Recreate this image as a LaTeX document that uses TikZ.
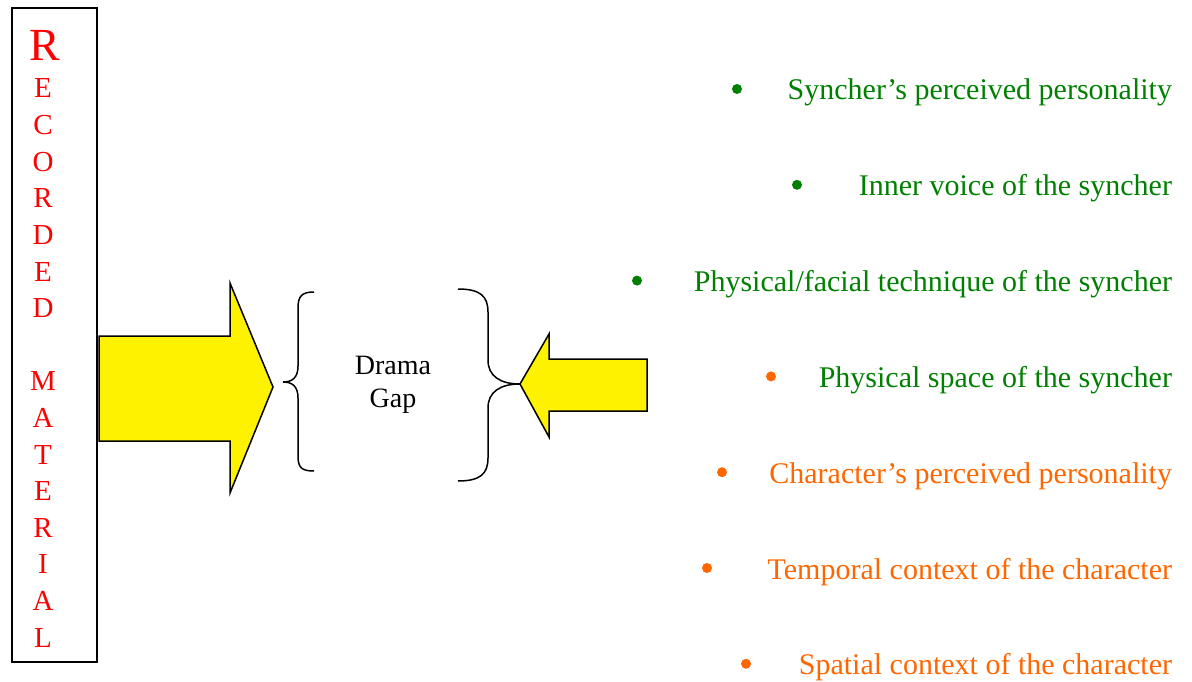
\documentclass[tikz,border=0pt]{standalone}
\usepackage{fontspec}
\setmainfont{Liberation Serif}
\usetikzlibrary{positioning}
\definecolor{listgreen}{RGB}{0,128,0}
\definecolor{listorange}{RGB}{255,102,0}

\begin{document}
\begin{tikzpicture}[
    x=1pt, y=-1pt,
    every node/.style={inner sep=0pt, outer sep=0pt},
    letter/.style={text=red, font=\fontsize{29}{32}\selectfont, anchor=base},
    fatarrow/.style={draw=black, line width=1.5pt, fill=yellow, line join=miter},
    brace/.style={draw=black, line width=1.5pt},
    item/.style={anchor=base east, font=\fontsize{30}{36}\selectfont},
    dot/.style={circle, minimum size=10pt, inner sep=0pt}
]
\useasboundingbox (0,0) rectangle (1192,682);

% Recorded material column
\draw[line width=2pt] (12,8) rectangle (97,662);
\node[letter, font=\fontsize{46}{50}\selectfont] (l0) at (45,61) {R};
\foreach \ch/\n in {E/1, C/2, O/3, R/4, D/5, E/6, D/7, M/9, A/10, T/11, E/12, R/13, I/14, A/15, L/16} {
    \node[letter] (l\n) at (43,{61.4+\n*36.6}) {\ch};
}

% Big arrow out of the column
\draw[fatarrow] (99,336) -- (230,336) -- (230,283) -- (273,387) -- (230,493) -- (230,441) -- (99,441) -- cycle;

% Braces round the gap
\coordinate (lbrace) at (283,382);
\coordinate (rbrace) at (520,384);
\draw[brace] (314,292) .. controls (302,292) and (298,296) .. (298,308) -- (298,366)
    .. controls (298,378) and (292,382) .. (lbrace)
    .. controls (292,382) and (298,386) .. (298,398) -- (298,456)
    .. controls (298,468) and (302,471) .. (314,471);
\draw[brace] (458,289) .. controls (480,289) and (488,296) .. (488,312) -- (488,360)
    .. controls (488,376) and (500,384) .. (rbrace)
    .. controls (500,384) and (488,392) .. (488,408) -- (488,458)
    .. controls (488,474) and (480,481) .. (458,481);

\node[align=center, font=\fontsize{28}{33}\selectfont] (gap) at (393,385) {Drama\\Gap};

% Small arrow into the gap
\draw[fatarrow] (rbrace) -- (549,334) -- (549,359) -- (647,359) -- (647,411) -- (549,411) -- (549,437) -- cycle;

% Bullet list
\foreach \n/\txt/\bx/\col/\dcol in {
    0/{Syncher's perceived personality}/737/listgreen/listgreen,
    1/{Inner voice of the syncher}/797/listgreen/listgreen,
    2/{Physical/facial technique of the syncher}/637/listgreen/listgreen,
    3/{Physical space of the syncher}/771/listgreen/listorange,
    4/{Character's perceived personality}/722/listorange/listorange,
    5/{Temporal context of the character}/707/listorange/listorange,
    6/{Spatial context of the character}/746/listorange/listorange} {
    \node[item, text=\col] (t\n) at (1172,{100+\n*95.8}) {\txt};
    \node[dot, fill=\dcol] (d\n) at (\bx,{89+\n*95.8}) {};
}

\end{tikzpicture}
\end{document}
